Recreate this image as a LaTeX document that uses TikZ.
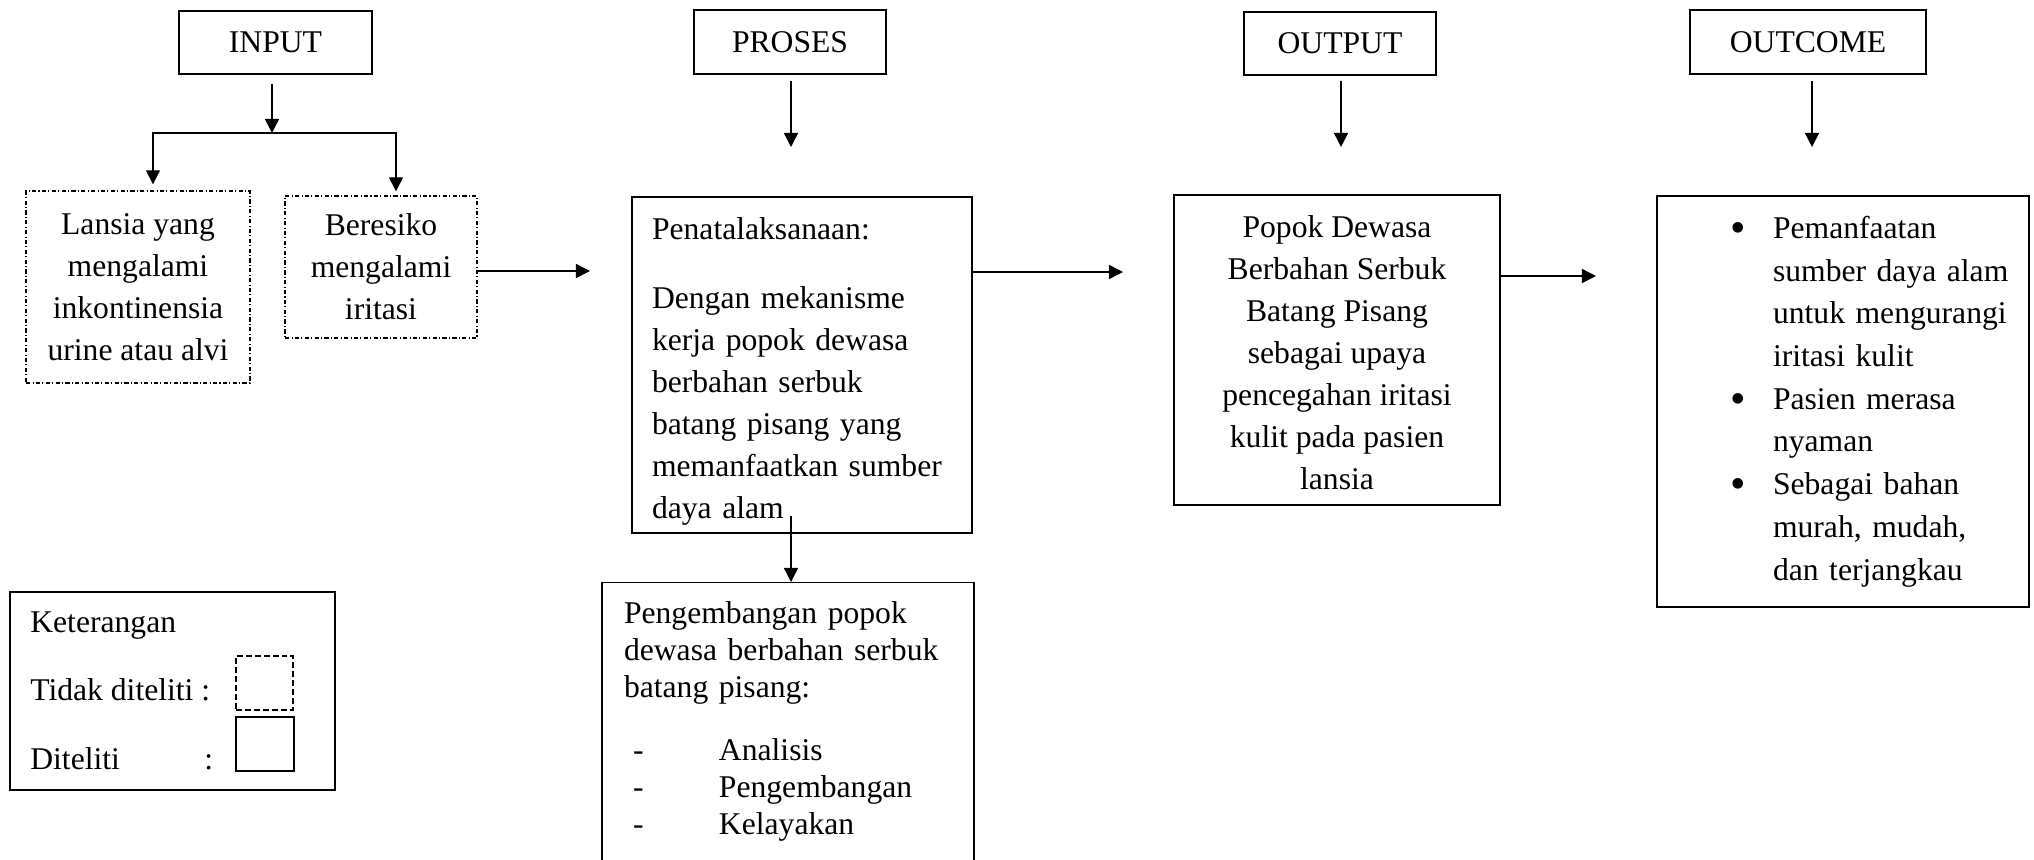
\documentclass[tikz,border=0pt]{standalone}
\usepackage{fontspec}
\usepackage{graphicx}
\setmainfont{Liberation Serif}
\usetikzlibrary{arrows.meta,calc,positioning}
\tikzset{
mybox/.style={
  rectangle,
  line width=0.8pt,
  inner sep=0pt,
  align=center,
  draw=black,
  font=\fontsize{18}{23.9}\selectfont,
  }
}
\tikzset{
mydash/.style={
  mybox,
  dash pattern=on 2.4pt off 1.3pt on 0.6pt off 1.3pt,
  }
}
\tikzset{
mytext/.style={
  inner sep=0pt,
  anchor=base west,
  font=\fontsize{18}{23.9}\selectfont,
  }
}
\tikzset{
myline/.style={
  line width=0.8pt,
  -{Triangle[length=8pt,width=8pt]}
  }
}

\begin{document}
\begin{tikzpicture}[x=0.02cm,y=-0.02cm]
    \useasboundingbox (0,0) rectangle (2034,859);

    % header part
    \node[mybox, minimum width=3.86cm, minimum height=1.26cm] (input) at (275.5,42.5) {INPUT};
    \node[mybox, minimum width=3.84cm, minimum height=1.28cm] (proses) at (790,42) {PROSES};
    \node[mybox, minimum width=3.84cm, minimum height=1.26cm] (output) at (1340,43.5) {OUTPUT};
    \node[mybox, minimum width=4.72cm, minimum height=1.28cm] (outcome) at (1808,42) {OUTCOME};

    % input part
    \node[mydash, minimum width=4.48cm, minimum height=3.84cm] (lansia) at (138,287) {Lansia yang\\ mengalami\\ inkontinensia\\ urine atau alvi};
    \node[mydash, minimum width=3.84cm, minimum height=2.84cm] (beresiko) at (381,267) {Beresiko\\ mengalami\\ iritasi};

    % proses part
    \node[mybox, minimum width=6.8cm, minimum height=6.72cm, text width=6cm, align=left] (penata) at (802,365)
        {\rule{0pt}{19.7pt}Penatalaksanaan:\\[15pt] Dengan mekanisme\\ kerja popok dewasa\\ berbahan serbuk\\ batang pisang yang\\ memanfaatkan sumber\\ daya alam};
    \node[mybox, anchor=north, minimum width=7.44cm, text width=6.56cm, align=left, inner ysep=0.385cm, text depth=7cm,
        font=\fontsize{18}{21}\selectfont] (pengem) at (788,582)
        {Pengembangan popok\\ dewasa berbahan serbuk\\ batang pisang:\\[14.7pt]
        \hspace*{0.18cm}\makebox[1.72cm][l]{-}Analisis\\
        \hspace*{0.18cm}\makebox[1.72cm][l]{-}Pengembangan\\
        \hspace*{0.18cm}\makebox[1.72cm][l]{-}Kelayakan};

    % output part
    \node[mybox, minimum width=6.52cm, minimum height=6.2cm] (popok) at (1337,350)
        {\rule{0pt}{15.7pt}Popok Dewasa\\ Berbahan Serbuk\\ Batang Pisang\\ sebagai upaya\\ pencegahan iritasi\\ kulit pada pasien\\ lansia};

    % outcome part
    \node[mybox, minimum width=7.44cm, minimum height=8.22cm, text width=6.9cm, align=left,
        font=\fontsize{18}{24.3}\selectfont] (hasil) at (1843,401.5)
        {\hspace*{1.2cm}\makebox[0.85cm][l]{\raisebox{-0.13em}{\scalebox{1.4}{\textbullet}}}Pemanfaatan\\
        \hspace*{2.05cm}sumber daya alam\\
        \hspace*{2.05cm}untuk mengurangi\\
        \hspace*{2.05cm}iritasi kulit\\
        \hspace*{1.2cm}\makebox[0.85cm][l]{\raisebox{-0.13em}{\scalebox{1.4}{\textbullet}}}Pasien merasa\\
        \hspace*{2.05cm}nyaman\\
        \hspace*{1.2cm}\makebox[0.85cm][l]{\raisebox{-0.13em}{\scalebox{1.4}{\textbullet}}}Sebagai bahan\\
        \hspace*{2.05cm}murah, mudah,\\
        \hspace*{2.05cm}dan terjangkau};

    % legend part
    \node[mybox, minimum width=6.5cm, minimum height=3.96cm] (legend) at (172.5,691) {};
    \node[mytext] (ket) at (30,632) {Keterangan};
    \node[mytext] (tidak) at (30,700) {Tidak diteliti :};
    \node[mytext] (diteliti) at (30,769) {\makebox[3.48cm][l]{Diteliti}:};
    \node[mybox, dash pattern=on 3.4pt off 1.7pt, line width=0.6pt, minimum width=1.14cm, minimum height=1.08cm] (sq_dash) at (264.5,683) {};
    \node[mybox, minimum width=1.16cm, minimum height=1.08cm] (sq_solid) at (265,744) {};

    % free ends
    \coordinate (fork_m) at (272,133);
    \coordinate (fork_l) at (153,133);
    \coordinate (fork_r) at (396,133);
    \coordinate (proses_end) at (791,147);
    \coordinate (output_end) at (1341,147);
    \coordinate (outcome_end) at (1812,147);
    \coordinate (ber_end) at (590,271);
    \coordinate (penata_end) at (1123,272);
    \coordinate (popok_end) at (1596,276);
    \coordinate (pen_top) at (791,516);

    % header edges
    \draw[myline, shorten <=0.18cm] (input.south -| fork_m) -- (fork_m);
    \draw[line width=0.8pt, {Triangle[length=8pt,width=8pt]}-{Triangle[length=8pt,width=8pt]}, shorten <=0.12cm, shorten >=0.08cm]
        (fork_l |- lansia.north) |- (fork_r) -- (fork_r |- beresiko.north);
    \draw[myline, shorten <=0.12cm] (proses.south -| proses_end) -- (proses_end);
    \draw[myline, shorten <=0.1cm] (output.south -| output_end) -- (output_end);
    \draw[myline, shorten <=0.12cm] (outcome.south -| outcome_end) -- (outcome_end);

    % flow edges
    \draw[myline] (beresiko.east |- ber_end) -- (ber_end);
    \draw[myline] (penata.east |- penata_end) -- (penata_end);
    \draw[myline] (popok.east |- popok_end) -- (popok_end);
    \draw[myline] (pen_top) -- (pen_top |- pengem.north);
\end{tikzpicture}
\end{document}
